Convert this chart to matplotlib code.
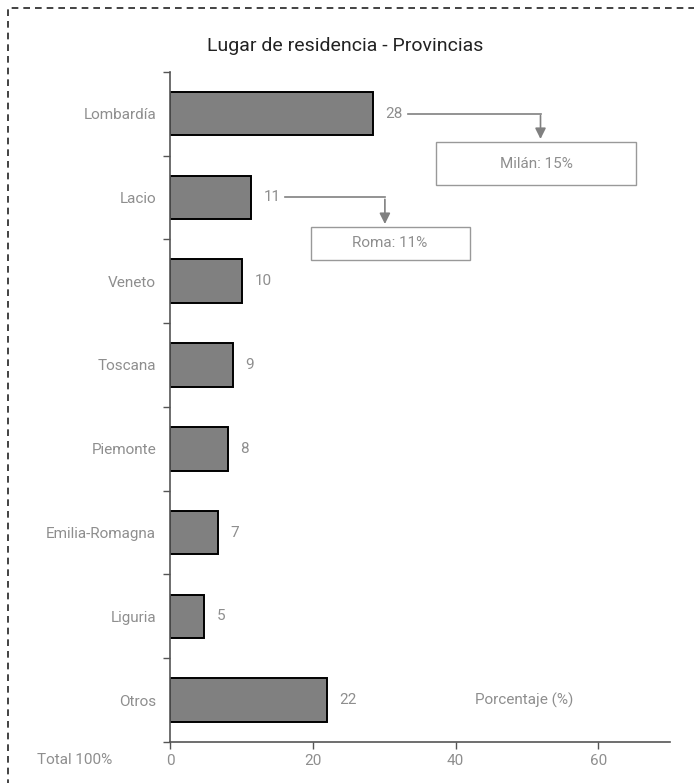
import matplotlib
matplotlib.use('Agg')
import matplotlib.pyplot as plt
from matplotlib.patches import Rectangle

plt.rcParams['font.family'] = ['Roboto', 'DejaVu Sans']

provincias = ['Lombardía', 'Lacio', 'Veneto', 'Toscana', 'Piemonte',
              'Emilia-Romagna', 'Liguria', 'Otros']
valores = [28.4, 11.4, 10.1, 8.8, 8.1, 6.7, 4.8, 22.0]
etiquetas = ['28', '11', '10', '9', '8', '7', '5', '22']
xticks = [0, 20, 40, 60]

gris = '#8e8e8e'
eje = '#555555'

fig = plt.figure(figsize=(6.94, 7.83), dpi=100)
ax = fig.add_axes([0.245, 0.0524, 0.72, 0.856])

y = list(range(len(provincias)))
ax.barh(y, valores, height=0.52, color='#808080', edgecolor='black', linewidth=1.4)
for yi, v, lab in zip(y, valores, etiquetas):
    ax.text(v + 1.7, yi, lab, va='center', ha='left', fontsize=11, color=gris)

ax.set_xlim(0, 70)
ax.set_ylim(7.5, -0.5)
ax.set_yticks(y)
ax.set_yticklabels(provincias)
ax.set_yticks([i - 0.5 for i in range(len(provincias) + 1)], minor=True)
ax.tick_params(axis='y', which='major', length=0, pad=10, labelsize=11, labelcolor=gris)
ax.tick_params(axis='y', which='minor', length=5, color=eje, width=1)
ax.set_xticks(xticks)
ax.tick_params(axis='x', length=5, color=eje, width=1, pad=4, labelsize=11, labelcolor=gris)

for s in ['top', 'right']:
    ax.spines[s].set_visible(False)
for s in ['left', 'bottom']:
    ax.spines[s].set_color(eje)
    ax.spines[s].set_linewidth(1.2)

# callouts
arrow = dict(arrowstyle='-|>', color='#808080', lw=1.2, mutation_scale=16)
ax.plot([33.3, 51.9], [0, 0], color='#808080', lw=1.2)
ax.annotate('', xy=(51.9, 0.336), xytext=(51.9, -0.01), arrowprops=arrow)
ax.add_patch(Rectangle((37.2, 0.336), 28.1, 0.513, fill=False, edgecolor='#999999', lw=1))
ax.text(51.3, 0.6, 'Milán: 15%', ha='center', va='center', fontsize=11, color=gris)

ax.plot([16.1, 30.1], [1, 1], color='#808080', lw=1.2)
ax.annotate('', xy=(30.1, 1.351), xytext=(30.1, 0.99), arrowprops=arrow)
ax.add_patch(Rectangle((19.7, 1.351), 22.3, 0.394, fill=False, edgecolor='#999999', lw=1))
ax.text(30.8, 1.55, 'Roma: 11%', ha='center', va='center', fontsize=11, color=gris)

ax.text(49.6, 7.0, 'Porcentaje (%)', ha='center', va='center', fontsize=11, color=gris)

fig.text(0.497, 0.941, 'Lugar de residencia - Provincias', ha='center', va='center',
         fontsize=14, color='#222222')
fig.text(0.108, 0.029, 'Total 100%', ha='center', va='center', fontsize=11, color=gris)

# dashed frame
fig.patches.append(Rectangle((0.0115, -0.05), 1.05, 1.04, transform=fig.transFigure,
                             fill=False, linestyle=(0, (4, 3)), edgecolor='#222222', lw=1.2))

fig.savefig('out.png', dpi=100)
